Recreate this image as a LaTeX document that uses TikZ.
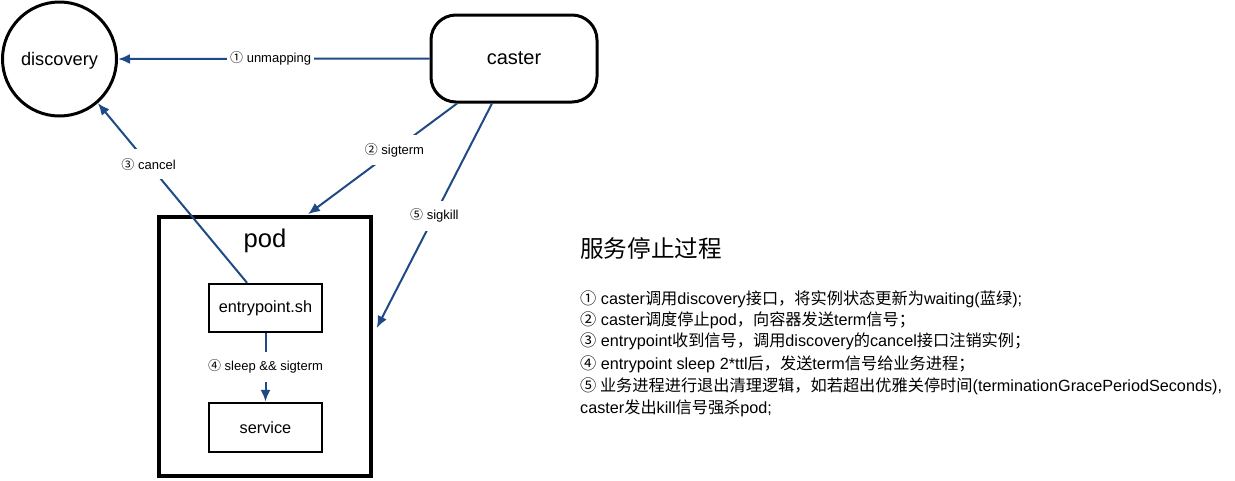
\documentclass[tikz,border=0pt]{standalone}
\usepackage{fontspec}
\setmainfont{Liberation Sans}
\newfontfamily\cjk{Noto Sans CJK SC}
\usetikzlibrary{arrows.meta,positioning}
\definecolor{arrblue}{HTML}{1F4A86}
\tikzset{
  arr/.style={draw=arrblue,line width=2pt,-{Latex[length=12pt,width=10pt]}},
  lbl/.style={fill=white,font=\fontsize{13}{15}\selectfont,inner xsep=3pt,inner ysep=0pt,minimum height=30pt},
  boxa/.style={draw,line width=2.5pt,minimum width=113pt,minimum height=48pt,font=\fontsize{16.3}{19}\selectfont},
  txtline/.style={anchor=west,inner sep=0pt,font=\fontsize{16.2}{19}\selectfont}
}
\begin{document}
\begin{tikzpicture}[x=1pt,y=-1pt]
\useasboundingbox (0,0) rectangle (1235,480);
% nodes
\node[draw,circle,line width=3pt,minimum size=114pt,inner sep=0pt,text depth=0pt,font=\fontsize{18.2}{20}\selectfont] (discovery) at (59.5,59) {discovery};
\node[draw,rounded corners=25pt,line width=3pt,minimum width=166pt,minimum height=87pt,font=\fontsize{20}{22}\selectfont] (caster) at (514,58.5) {caster};
\node[draw,line width=3.5pt,minimum width=212pt,minimum height=259pt] (pod) at (265,346.5) {};
\node[font=\fontsize{25.6}{28}\selectfont] (podlabel) at (265,241) {pod};
\node[boxa] (entry) at (265.5,308) {entrypoint.sh};
\node[boxa,minimum height=49pt] (service) at (265.5,427.5) {service};
% connectors
\draw[arr] (caster.west) -- node[lbl,pos=0.51] (l1) {{\cjk ①} unmapping} (discovery.east);
\draw[arr] ([xshift=-57pt]caster.south) -- node[lbl,pos=0.42] (l2) {{\cjk ②} sigterm} ([xshift=43pt,yshift=1pt]pod.north);
\draw[arr] ([xshift=-22pt]caster.south) -- node[lbl,pos=0.5] (l5) {{\cjk ⑤} sigkill} ([xshift=4pt,yshift=18.5pt]pod.east);
\draw[arr] ([xshift=-18.5pt]entry.north) -- node[lbl,pos=0.66] (l3) {{\cjk ③} cancel} (discovery.-49);
\draw[arr] (entry.south) -- node[lbl,pos=0.49] (l4) {{\cjk ④} sleep \&\& sigterm} (service.north);
% description
\node[anchor=west,inner sep=0pt,font=\cjk\fontsize{23.6}{26}\selectfont] (title) at (580,248) {服务停止过程};
\node[txtline] (t1) at (580,299) {{\cjk ①} caster{\cjk 调用}discovery{\cjk 接口，将实例状态更新为}waiting({\cjk 蓝绿});};
\node[txtline] (t2) at (580,320) {{\cjk ②} caster{\cjk 调度停止}pod{\cjk ，向容器发送}term{\cjk 信号；}};
\node[txtline] (t3) at (580,341.5) {{\cjk ③} entrypoint{\cjk 收到信号，调用}discovery{\cjk 的}cancel{\cjk 接口注销实例；}};
\node[txtline] (t4) at (580,364) {{\cjk ④} entrypoint sleep 2*ttl{\cjk 后，发送}term{\cjk 信号给业务进程；}};
\node[txtline] (t5) at (580,386) {{\cjk ⑤ 业务进程进行退出清理逻辑，如若超出优雅关停时间}(terminationGracePeriodSeconds),};
\node[txtline] (t6) at (580,408) {caster{\cjk 发出}kill{\cjk 信号强杀}pod;};
\end{tikzpicture}
\end{document}
